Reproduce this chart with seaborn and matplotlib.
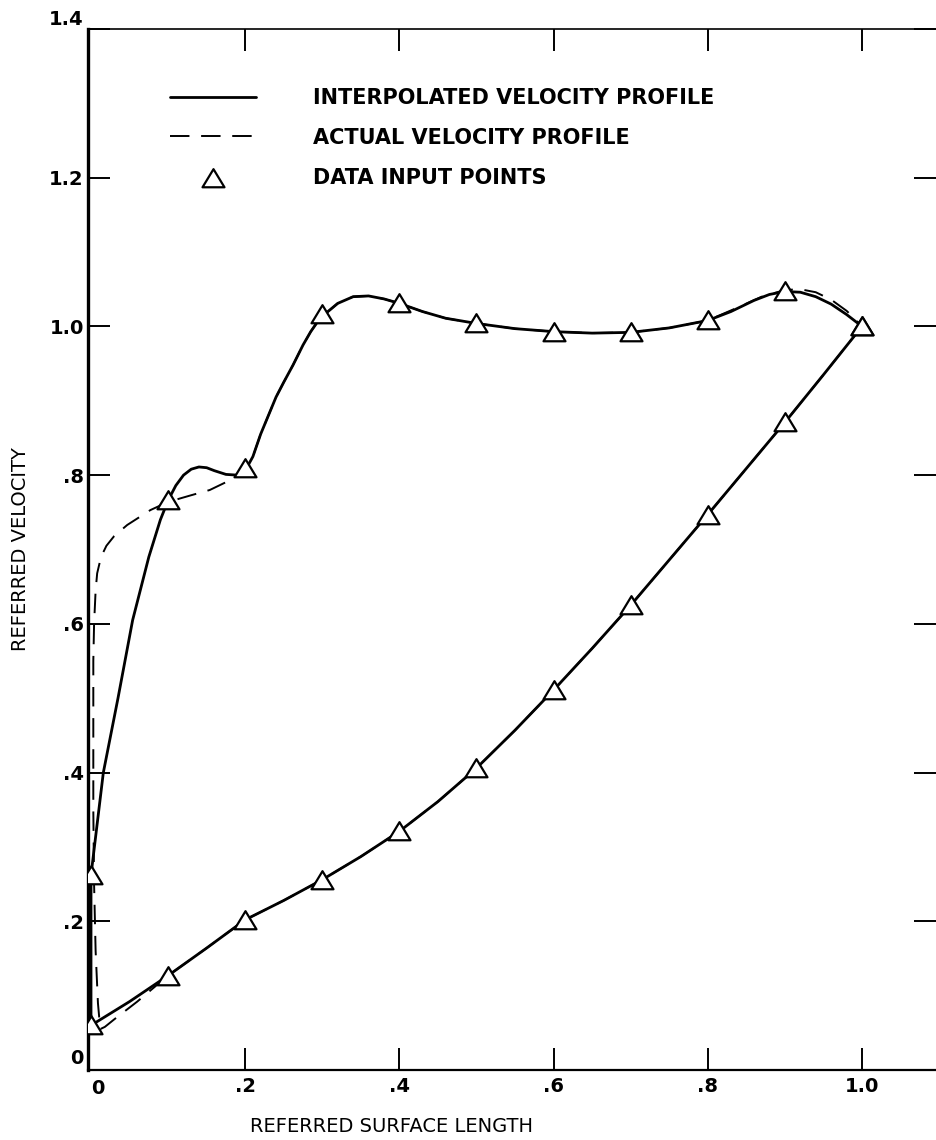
import matplotlib
matplotlib.use("Agg")
import matplotlib.pyplot as plt
from matplotlib.path import Path
from matplotlib.transforms import ScaledTranslation
import seaborn as sns
import pandas as pd

# Data input points (triangles) along the lower and upper surfaces
points_x = [1.0, 0.9, 0.8, 0.7, 0.6, 0.5, 0.4, 0.3, 0.2, 0.1, 0.0,
            0.0, 0.1, 0.2, 0.3, 0.4, 0.5, 0.6, 0.7, 0.8, 0.9, 1.0]
points_y = [1.0, 0.871, 0.747, 0.625, 0.511, 0.406, 0.321, 0.256, 0.202, 0.127, 0.060,
            0.262, 0.766, 0.810, 1.017, 1.031, 1.005, 0.993, 0.993, 1.008, 1.048, 1.0]

# Interpolated velocity profile, traced from the lower trailing edge round to the upper trailing edge
interp_x = [1.0, 0.95, 0.9, 0.85, 0.8, 0.75, 0.7, 0.65, 0.6, 0.55, 0.5, 0.45, 0.4, 0.35,
            0.3, 0.25, 0.2, 0.15, 0.1, 0.05, 0.0,
            0.0, 0.016, 0.035, 0.054, 0.075, 0.09, 0.1, 0.11, 0.12, 0.13, 0.14, 0.15,
            0.16, 0.175, 0.19, 0.2, 0.21, 0.22, 0.23, 0.24, 0.25, 0.262, 0.275, 0.285,
            0.295, 0.305, 0.32, 0.34, 0.36, 0.38, 0.4, 0.43, 0.46, 0.5, 0.55, 0.6, 0.65,
            0.7, 0.75, 0.8, 0.83, 0.86, 0.88, 0.9, 0.92, 0.94, 0.96, 0.98, 1.0]
interp_y = [1.0, 0.935, 0.871, 0.809, 0.747, 0.686, 0.625, 0.567, 0.511, 0.457, 0.406,
            0.361, 0.321, 0.287, 0.256, 0.228, 0.202, 0.164, 0.127, 0.092, 0.060,
            0.262, 0.40, 0.50, 0.605, 0.69, 0.74, 0.766, 0.786, 0.800, 0.808, 0.811,
            0.810, 0.806, 0.801, 0.800, 0.806, 0.825, 0.855, 0.880, 0.905, 0.925, 0.948,
            0.975, 0.993, 1.008, 1.018, 1.031, 1.040, 1.041, 1.037, 1.031, 1.020, 1.011,
            1.004, 0.997, 0.993, 0.991, 0.992, 0.998, 1.008, 1.020, 1.035, 1.043, 1.047,
            1.046, 1.040, 1.030, 1.016, 1.0]

# Actual velocity profile, same direction of travel
actual_x = [1.0, 0.95, 0.9, 0.85, 0.8, 0.75, 0.7, 0.65, 0.6, 0.55, 0.5, 0.45, 0.4, 0.35,
            0.3, 0.25, 0.2, 0.15, 0.1, 0.06, 0.03, 0.018, 0.012, 0.009, 0.006, 0.004,
            0.003, 0.003, 0.003, 0.004, 0.006, 0.008, 0.013, 0.02, 0.03, 0.047, 0.077,
            0.1, 0.13, 0.154, 0.184, 0.2, 0.21, 0.22, 0.23, 0.24, 0.25, 0.262, 0.275,
            0.285, 0.295, 0.305, 0.32, 0.34, 0.36, 0.38, 0.4, 0.43, 0.46, 0.5, 0.55,
            0.6, 0.65, 0.7, 0.75, 0.8, 0.84, 0.87, 0.9, 0.92, 0.94, 0.96, 0.98, 0.99, 1.0]
actual_y = [1.0, 0.935, 0.871, 0.809, 0.747, 0.686, 0.625, 0.567, 0.511, 0.457, 0.406,
            0.361, 0.321, 0.287, 0.256, 0.228, 0.202, 0.164, 0.127, 0.092, 0.068, 0.058,
            0.055, 0.09, 0.16, 0.25, 0.35, 0.45, 0.55, 0.60, 0.645, 0.668, 0.69, 0.705,
            0.718, 0.733, 0.753, 0.764, 0.773, 0.780, 0.795, 0.806, 0.825, 0.855, 0.880,
            0.905, 0.925, 0.948, 0.975, 0.993, 1.008, 1.018, 1.031, 1.040, 1.041, 1.037,
            1.031, 1.020, 1.011, 1.004, 0.997, 0.993, 0.991, 0.992, 0.998, 1.008, 1.026,
            1.040, 1.049, 1.050, 1.046, 1.036, 1.021, 1.011, 1.0]

x_ticks = [0.0, 0.2, 0.4, 0.6, 0.8, 1.0]
x_tick_labels = ["0", ".2", ".4", ".6", ".8", "1.0"]
y_ticks = [0.0, 0.2, 0.4, 0.6, 0.8, 1.0, 1.2, 1.4]
y_tick_labels = ["0", ".2", ".4", ".6", ".8", "1.0", "1.2", "1.4"]

legend_labels = ["INTERPOLATED VELOCITY PROFILE", "ACTUAL VELOCITY PROFILE", "DATA INPUT POINTS"]

sns.set_theme(style="ticks")
plt.rcParams["font.family"] = ["DejaVu Sans"]
plt.rcParams["text.color"] = "black"
plt.rcParams["axes.labelcolor"] = "black"
plt.rcParams["xtick.color"] = "black"
plt.rcParams["ytick.color"] = "black"

W, H, DPI = 936, 1140, 100
fig = plt.figure(figsize=(W / DPI, H / DPI), dpi=DPI)
fig.patch.set_facecolor("white")
ax = fig.add_axes([88 / W, 70 / H, 1 - 88 / W, (1070 - 29) / H])
ax.set_facecolor("white")

interp_df = pd.DataFrame({"x": interp_x, "y": interp_y})
actual_df = pd.DataFrame({"x": actual_x, "y": actual_y})
points_df = pd.DataFrame({"x": points_x, "y": points_y})

sns.lineplot(data=actual_df, x="x", y="y", sort=False, estimator=None, ax=ax,
             color="black", linewidth=1.4, dashes=False, label=legend_labels[1], zorder=2)
ax.lines[-1].set_dashes([10, 6])
sns.lineplot(data=interp_df, x="x", y="y", sort=False, estimator=None, ax=ax,
             color="black", linewidth=2.0, label=legend_labels[0], zorder=3)

tri = Path([(-1.0, -0.8), (1.0, -0.8), (0.0, 0.85), (-1.0, -0.8)],
           [Path.MOVETO, Path.LINETO, Path.LINETO, Path.CLOSEPOLY])
sns.scatterplot(data=points_df, x="x", y="y", ax=ax, marker=tri, s=250,
                facecolor="white", edgecolor="black", linewidth=1.6,
                label=legend_labels[2], zorder=4)

ax.set_xlim(-3 / 771, (936 - 91) / 771)
ax.set_ylim(0, 1.4)

ax.set_xticks(x_ticks[1:])
ax.set_xticklabels(x_tick_labels[1:])
ax.set_yticks(y_ticks)
ax.set_yticklabels(y_tick_labels)
ax.tick_params(axis="both", which="major", direction="in", length=16, width=1.4,
               labelsize=14, top=True, right=True, color="black", labelcolor="black")
ax.tick_params(axis="x", pad=5)
ax.tick_params(axis="y", pad=3)
for lab in ax.get_xticklabels() + ax.get_yticklabels():
    lab.set_fontweight("bold")

# "0" under the origin on the x axis
ax.text(0.0, -0.012, "0", transform=ax.transData, ha="left", va="top",
        fontsize=14, fontweight="bold", color="black")

ylabs = ax.get_yticklabels()
ylabs[0].set_transform(ylabs[0].get_transform() + ScaledTranslation(0, 10 / 72, fig.dpi_scale_trans))
ylabs[-1].set_transform(ylabs[-1].get_transform() + ScaledTranslation(0, 8 / 72, fig.dpi_scale_trans))

for side, lw in [("left", 2.4), ("bottom", 1.6), ("top", 1.2)]:
    ax.spines[side].set_linewidth(lw)
    ax.spines[side].set_color("black")
ax.spines["right"].set_visible(False)

ax.set_xlabel("REFERRED SURFACE LENGTH", fontsize=14, color="black")
ax.set_ylabel("REFERRED VELOCITY", fontsize=14, color="black")
ax.xaxis.set_label_coords((392 - 88) / 848, -(1126 - 1070) / 1041)
ax.yaxis.set_label_coords(-(88 - 21) / 848, 0.5)
ax.xaxis.label.set_va("center")
ax.yaxis.label.set_va("center")

handles, labels = ax.get_legend_handles_labels()
order = [labels.index(l) for l in legend_labels]
leg = ax.legend([handles[i] for i in order], [labels[i] for i in order],
                loc="upper left", bbox_to_anchor=(170 / W, 1 - 88 / H),
                bbox_transform=fig.transFigure, frameon=False,
                prop={"size": 15, "weight": "bold"},
                handlelength=4.13, handletextpad=2.74, labelspacing=0.95,
                borderpad=0, borderaxespad=0)
for t in leg.get_texts():
    t.set_color("black")

fig.savefig("out.png", dpi=DPI)
